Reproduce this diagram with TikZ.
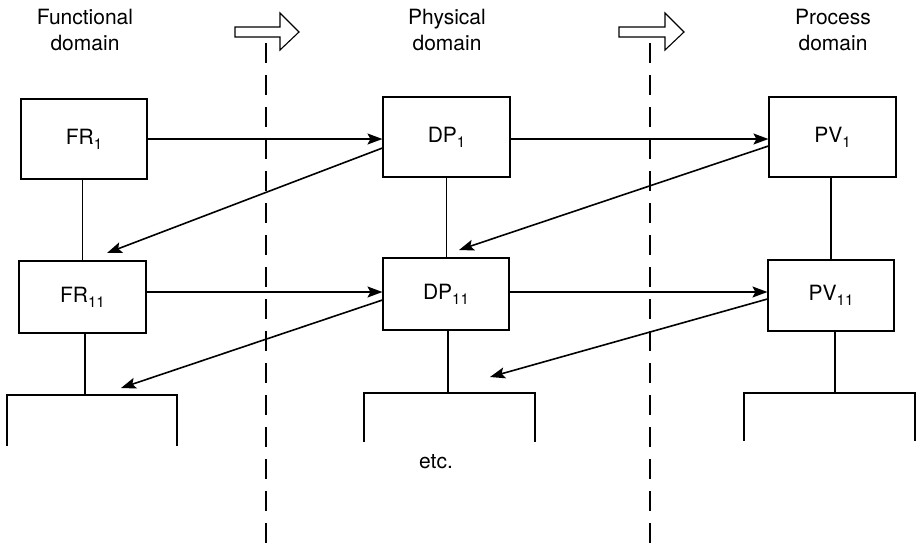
\documentclass[tikz,border=0pt]{standalone}
\usepackage{fontspec}
\setmainfont{TeX Gyre Heros}
\usetikzlibrary{arrows.meta}
\newcommand\lowidx[1]{\raisebox{-5pt}{\fontsize{15}{15}\selectfont #1}}
\begin{document}
\begin{tikzpicture}[x=1pt,y=-1pt,
  font=\fontsize{21}{26}\selectfont,
  blockbox/.style={draw,line width=1.1pt,inner sep=0pt,align=center},
  link/.style={line width=1.1pt},
  mapping/.style={line width=1.6pt,-{Stealth[length=15pt,width=11pt,inset=3pt]}},
  divider/.style={line width=1.1pt,dash pattern=on 20pt off 12pt},
  stage/.style={draw,line width=1.1pt,fill=white,line join=miter},
  domainlabel/.style={align=center,inner sep=0pt}]
\useasboundingbox (0,0) rectangle (916,547);

% domain headings
\node[domainlabel] (hF) at (85,30) {Functional\\domain};
\node[domainlabel] (hP) at (447,30) {Physical\\domain};
\node[domainlabel] (hV) at (833,30) {Process\\domain};

% domain dividers
\coordinate (d1t) at (266,43);
\coordinate (d1b) at (266,547);
\coordinate (d2t) at (650,43);
\coordinate (d2b) at (650,547);
\draw[divider] (d1t) -- (d1b);
\draw[divider] (d2t) -- (d2b);

% hollow mapping arrows
\draw[stage] (235,27) -- (280,27) -- (280,13) -- (299,32) -- (280,50) -- (280,37) -- (235,37) -- cycle;
\draw[stage] (619,27) -- (665,27) -- (665,13) -- (684,32) -- (665,50) -- (665,37) -- (619,37) -- cycle;

% hierarchy boxes
\node[blockbox,minimum width=126pt,minimum height=80pt] (FR1) at (84,139) {FR\lowidx{1}};
\node[blockbox,minimum width=127pt,minimum height=80pt] (DP1) at (446.5,137) {DP\lowidx{1}};
\node[blockbox,minimum width=127pt,minimum height=80pt] (PV1) at (832.5,137) {PV\lowidx{1}};
\node[blockbox,minimum width=127pt,minimum height=72pt] (FR11) at (82.5,297) {FR\lowidx{11}};
\node[blockbox,minimum width=126pt,minimum height=72pt] (DP11) at (446,294) {DP\lowidx{11}};
\node[blockbox,minimum width=126pt,minimum height=71pt] (PV11) at (831,295.5) {PV\lowidx{11}};

% decomposition links
\draw[link] (FR1.south -| FR11.north) -- (FR11.north);
\draw[link] (DP1.south) -- (DP1.south |- DP11.north);
\draw[link] (PV1.south -| PV11.north) -- (PV11.north);

% lower branches
\coordinate (fb) at (85,395);
\coordinate (fbl) at (7,395);
\coordinate (fbr) at (177,395);
\coordinate (pb) at (448,393);
\coordinate (pbl) at (364,393);
\coordinate (pbr) at (535,393);
\coordinate (vb) at (835,393);
\coordinate (vbl) at (744,393);
\coordinate (vbr) at (915,393);
\draw[link] (FR11.south -| fb) -- (fb);
\draw[link] ([yshift=-51pt]fbl) -- (fbl) -- (fbr) -- ([yshift=-51pt]fbr);
\draw[link] (DP11.south -| pb) -- (pb);
\draw[link] ([yshift=-49pt]pbl) -- (pbl) -- (pbr) -- ([yshift=-49pt]pbr);
\draw[link] (PV11.south -| vb) -- (vb);
\draw[link] ([yshift=-48pt]vbl) -- (vbl) -- (vbr) -- ([yshift=-48pt]vbr);

% zigzag mapping
\coordinate (zFR11) at (107,253);
\coordinate (zDP11) at (459,250);
\coordinate (zFb) at (121,388);
\coordinate (zPb) at (490,377);
\draw[mapping] (FR1.east) -- (FR1.east -| DP1.west);
\draw[mapping] (DP1.east |- FR1.east) -- (FR1.east -| PV1.west);
\draw[mapping] ([yshift=-11pt]DP1.west) -- (zFR11);
\draw[mapping] ([yshift=-9pt]PV1.west) -- (zDP11);
\draw[mapping] (FR11.east |- DP11.east) ++(0,-2) -- ([yshift=2pt]DP11.west);
\draw[mapping] ([yshift=2pt]DP11.east) -- ([yshift=3.5pt]PV11.west);
\draw[mapping] ([yshift=-6pt]DP11.west) -- (zFb);
\draw[mapping] ([yshift=-3.5pt]PV11.west) -- (zPb);

\node (etc) at (436,462) {etc.};
\end{tikzpicture}
\end{document}
